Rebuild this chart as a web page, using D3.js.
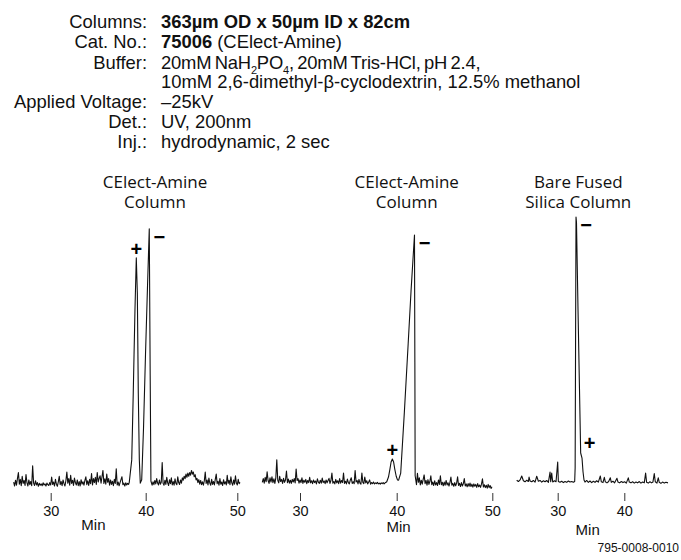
<!DOCTYPE html>
<html>
<head>
<meta charset="utf-8">
<script src="https://cdnjs.cloudflare.com/ajax/libs/d3/7.8.5/d3.min.js"></script>
<style>
body { margin: 0; background: #fff; }
svg { display: block; }
.hdr { font-family: "Liberation Sans", Arial, sans-serif; font-size: 18.4px; fill: #111; }
.tight { letter-spacing: -0.2px; word-spacing: -1.5px; }
.title { font-family: "Open Sans", sans-serif; font-size: 17px; fill: #111; }
.axis text { font-family: "Liberation Sans", Arial, sans-serif; font-size: 14.5px; fill: #111; }
.axis line { stroke: #333; }
.trace { fill: none; stroke: #111; stroke-width: 1.1; stroke-linejoin: round; }
.mark { font-family: "Liberation Sans", Arial, sans-serif; font-weight: bold; font-size: 20px; fill: #000; }
.unit { font-family: "Liberation Sans", Arial, sans-serif; font-size: 15px; fill: #111; }
.ref { font-family: "Liberation Sans", Arial, sans-serif; font-size: 12px; fill: #111; }
</style>
</head>
<body>
<div id="chart"></div>
<script>
// header text (** = bold, _x = subscript)
var headerLabels = ["Columns:", "Cat. No.:", "Buffer:", "", "Applied Voltage:", "Det.:", "Inj.:"];
var headerValues = [
  "**363µm OD x 50µm ID x 82cm**",
  "**75006** (CElect-Amine)",
  "20mM NaH_2PO_4, 20mM Tris-HCl, pH 2.4,",
  "10mM 2,6-dimethyl-β-cyclodextrin, 12.5% methanol",
  "–25kV",
  "UV, 200nm",
  "hydrodynamic, 2 sec"
];

var panelTitles = [["CElect-Amine", "Column"], ["CElect-Amine", "Column"], ["Bare Fused", "Silica Column"]];
var panelTicks = [[30, 40, 50], [30, 40, 50], [30, 40]];
var unitLabel = "Min";
var figureCode = "795-0008-0010";

// detector baseline: start minute, sampling interval (min), absorbance readings
var base1a = {t0: 26.1, dt: 0.1, v: [
  -0.4,-1.9,0.3,-1.6,1.0,3.2,-1.2,0.6,-1.8,1.8,
  -0.9,0.2,-1.7,2.4,-0.6,-1.9,0.4,-1.4,-0.2,-1.8,
  5.8,-0.8,-1.7,0.1,-1.5,-0.6,-2.0,-0.9,-1.6,-1.1,
  -1.8,-0.7,-1.5,-1.1,-1.9,-0.8,-1.4,-1.7,-0.6,-1.5,
  1.5,-1.3,-0.4,-1.9,0.6,-1.2,-2.0,-0.3,1.8,-1.4,
  -0.2,-1.8,0.4,-1.0,-1.9,0.2,3.4,-0.8,0.9,-1.6,
  2.2,-0.9,0.3,-1.7,1.1,-0.6,-1.5,0.4,-1.8,-0.2,
  -1.9,0.5,-1.2,-0.3,-1.6,0.2,1.6,-1.4,0.1,-1.7,
  0.6,-1.0,2.8,-1.5,0.9,-0.6,1.4,-1.3,3.2,-0.4,
  1.0,2.0,-0.8,1.6,4.0,-0.9,0.8,-1.2,2.6,-0.5,
  0.9,-1.6,0.4,-1.3,-0.1,-1.8,0.6,-0.9,4.6,-1.5,
  -0.4,-1.8,-0.6,0.5,1.6,-1.4,-0.8,-1.9,-0.7,-1.5,
  -0.9,-1.3]};
var peaks1 = [
  [38.27,-0.5],[38.53,8],[38.69,33.3],[38.87,64.8],[39.01,84.5],[39.12,71.2],[39.22,33.3],[39.33,8],[39.43,-0.8],
  [39.58,0.5],[39.77,20],[39.98,48],[40.2,74],[40.39,95.5],[40.49,40],[40.57,0]];
var base1b = {t0: 40.7, dt: 0.1, v: [
  -1.6,-0.3,-1.4,0.2,-1.1,0.9,-0.8,-1.5,0.4,-1.2,
  -0.5,7.0,-0.9,-1.6,0.3,-1.3,1.4,-0.7,-1.7,0.5,
  -1.0,1.2,-1.5,-0.2,-1.6,0.8,-0.9,-1.4,1.6,-0.6,
  -1.3,0.4,-0.8,1.2,0.3,1.8,0.9,2.6,1.4,3.0,
  1.8,3.2,2.2,4.0,2.6,3.4,1.6,2.4,0.4,1.0,
  -0.6,0.5,-1.2,0.2,-1.4,-0.3,-1.6,0.1,3.4,-0.9,
  0.4,-1.5,1.1,-0.8,-1.6,0.6,-1.3,-0.2,-1.5,0.7,
  2.6,-1.0,-0.1,-1.6,0.9,-1.2,-0.4,-1.7,0.5,-1.1,
  -0.3,-1.5,2.2,-0.9,0.3,-1.4,1.6,-0.7,-1.6,0.4,
  -1.2,2.0,-0.8,-1.5,0.6,-1.0,-0.5]};

var base2a = {t0: 26.1, dt: 0.1, v: [
  -0.5,0.9,-0.8,1.4,-0.3,3.5,0.2,-0.9,1.2,-0.4,
  1.6,-0.6,0.8,-0.9,1.2,8.0,0.3,-0.7,1.8,-0.2,
  0.6,-0.9,1.0,-0.5,0.4,3.8,-0.6,0.7,-0.8,0.3,
  -0.9,0.6,-0.4,0.9,-0.7,4.5,0.2,0.9,-0.8,0.4,
  -0.6,1.2,-0.9,0.3,-0.5,0.6,-1.0,0.2,-0.6,1.4,
  -0.7,0.1,-1.0,0.4,-0.6,0.0,-1.1,0.8,-0.4,-0.9,
  0.3,-0.8,1.1,-0.6,0.0,-1.0,0.4,-0.7,0.2,1.0,
  -0.9,0.2,3.0,-0.8,-0.2,-1.1,0.6,-0.7,0.1,-1.0,
  0.9,-0.8,0.2,-0.6,3.0,-0.9,-0.1,-1.1,0.7,-0.6,
  -1.1,0.3,1.2,-0.9,-0.3,-1.0,4.0,-0.4,0.2,-1.1,
  0.6,-0.8,-1.2,3.0,-0.5,-1.0,1.5,-0.7,0.1,-1.1,
  -0.4,0.4,-1.2,-0.6,-1.0,-0.4,-1.1,-0.7,-1.0,-0.5,
  -1.1,-0.8,-1.2,-0.7,-1.0,-0.6,-1.1,-0.7,-0.5]};
var peaks2 = [
  [38.97,-0.3],[39.15,1.5],[39.3,4.5],[39.42,7.2],[39.55,8.3],[39.68,7.2],[39.8,4.5],[39.95,1.8],[40.08,0.4],[40.2,0.3],
  [40.42,3.0],[40.8,26],[41.2,52],[41.5,72],[41.86,93.2],[41.9,45],[41.93,2]];
var base2b = {t0: 42.07, dt: 0.1, v: [
  -1.4,2.9,-0.5,1.2,-1.5,0.3,-1.2,0.6,2.3,-1.0,
  0.2,-1.6,0.5,-1.3,-0.2,2.0,-1.4,-0.4,-1.7,0.1,
  -1.5,-0.6,-1.7,0.4,-1.3,2.0,-1.4,-0.5,-1.8,-0.4,
  -1.6,0.2,-1.5,-0.7,-1.9,-0.5,1.5,-1.6,-0.9,-2.0,
  -0.6,-1.8,-0.8,1.6,-1.7,-0.9,-2.1,-0.6,-1.9,-1.0,
  0.9,-1.9,-1.1,-2.2,-1.0,-2.0,-0.8,-2.1,-1.2,-2.3,
  -1.1,-2.0,-1.3,-2.4,-1.0,-2.2,-1.5,-2.4,-1.2,0.8,
  -2.3,-1.4,-2.5,-1.6,-2.7,-1.3,-2.5,-1.7,-2.8,-2.2]};

var trace3 = [
  [23.84,0.3],[24.1,-0.2],[24.35,0.4],[24.6,1.9],[24.85,0.1],[25.1,-0.3],[25.35,0.3],[25.6,-0.2],[25.7,1.5],[25.85,0.0],
  [26.1,-0.3],[26.35,0.2],[26.6,-0.4],[26.85,1.8],[27.1,-0.1],[27.35,0.2],[27.6,-0.4],[27.85,0.1],[28.1,-0.3],[28.35,0.2],
  [28.6,-0.5],[28.85,3.4],[28.95,-0.3],[29.1,3.0],[29.25,-0.4],[29.5,0.1],[29.75,-0.3],[30.0,7.2],[30.1,-0.2],[30.35,-0.5],
  [30.6,-0.1],[30.85,-0.6],[31.1,-0.2],[31.35,-0.5],[31.6,0.0],[31.85,-0.4],[32.1,-0.2],[32.35,-0.5],[32.55,-0.2],
  [32.62,5],[32.68,50],[32.75,100],[32.82,98],[33.05,65],[33.27,35],[33.45,10.6],[33.65,8.7],[33.8,3.5],[33.95,0.4],
  [34.1,-0.4],[34.35,0.2],[34.6,-0.5],[34.85,0.0],[35.1,-0.6],[35.35,-0.1],[35.6,-0.5],[35.85,0.1],[36.1,-0.4],[36.4,1.9],
  [36.55,-0.3],[36.8,-0.6],[37.0,1.4],[37.15,-0.3],[37.4,-0.7],[37.65,-0.2],[37.9,1.2],[38.05,-0.5],[38.3,-0.1],[38.55,-0.7],
  [38.9,1.0],[39.05,-0.4],[39.3,-0.7],[39.55,-0.2],[39.8,-0.6],[40.05,-0.3],[40.3,-0.8],[40.6,1.2],[40.75,-0.4],[41.0,-0.7],
  [41.25,-0.3],[41.5,-0.8],[41.75,-0.4],[42.0,-0.7],[42.25,-0.2],[42.5,-0.8],[42.75,-0.4],[43.0,-0.7],[43.2,3.0],[43.35,-0.5],
  [43.6,-0.8],[43.85,-0.3],[44.1,-0.7],[44.3,-0.4],[44.5,2.8],[44.65,-0.3],[44.9,-0.8],[45.1,1.2],[45.25,-0.5],[45.5,-0.9],
  [45.75,-0.4],[46.0,-0.8],[46.25,-0.5],[46.56,-0.7]
];

// peak charge labels: panel index, peak time, peak height
var peakLabels = [
  {panel: 0, t: 39.01, v: 84.5, label: "+", place: "above"},
  {panel: 0, t: 40.39, v: 95.5, label: "−", place: "right"},
  {panel: 1, t: 39.55, v: 8.3, label: "+", place: "above"},
  {panel: 1, t: 41.86, v: 93.2, label: "−", place: "right"},
  {panel: 2, t: 32.75, v: 100, label: "−", place: "right"},
  {panel: 2, t: 33.45, v: 10.6, label: "+", place: "upright"}
];

// sampled baseline -> [t, v] pairs
function samples(s) {
    return s.v.map(function(v, i) { return [s.t0 + i * s.dt, v]; });
}

var traces = [
    samples(base1a).concat(peaks1, samples(base1b)),
    samples(base2a).concat(peaks2, samples(base2b)),
    trace3
];

var width = 681, height = 560;

var svg = d3.select("#chart").append("svg")
    .attr("width", width)
    .attr("height", height);

svg.append("rect").attr("width", width).attr("height", height).attr("fill", "#fff");

// ---- header block
var labelX = 147, valueX = 161;
var rowY = [28, 48.3, 68.5, 88, 107.5, 127.5, 147.5];

headerLabels.forEach(function(l, i) {
    if (!l) return;
    svg.append("text")
        .attr("class", "hdr")
        .attr("x", labelX)
        .attr("y", rowY[i])
        .style("text-anchor", "end")
        .text(l);
});

headerValues.forEach(function(v, i) {
    var t = svg.append("text")
        .attr("class", "hdr")
        .attr("x", valueX)
        .attr("y", rowY[i]);
    // split into bold / subscript / plain pieces
    var parts = v.split(/(\*\*[^*]+\*\*|_\d)/).filter(function(p) { return p.length; });
    var sub = false;
    if (v.indexOf("_") >= 0) t.classed("tight", true);
    parts.forEach(function(p) {
        if (p.indexOf("**") === 0) {
            t.append("tspan").style("font-weight", "bold").text(p.slice(2, -2));
        } else if (p[0] === "_") {
            t.append("tspan").attr("dy", sub ? 0 : 5).style("font-size", "11px").text(p.slice(1));
            sub = true;
        } else {
            t.append("tspan").attr("dy", sub ? -5 : 0).text(p);
            sub = false;
        }
    });
});

// ---- panels
var y = d3.scaleLinear().domain([0, 100]).range([481, 217]);

var panels = [
    {x: d3.scaleLinear().domain([30, 40, 50]).range([50.7, 145.7, 237.3]), titleX: 155, unitT: 34.5, unitY: 530},
    {x: d3.scaleLinear().domain([30, 40, 50]).range([300, 396.7, 492.3]), titleX: 406.7, unitT: 40.2, unitY: 532},
    {x: d3.scaleLinear().domain([30, 40]).range([557.7, 624.3]), titleX: 578.3, unitT: 34.5, unitY: 535}
];

panels.forEach(function(p, i) {
    var g = svg.append("g");

    g.selectAll(".title")
        .data(panelTitles[i])
        .enter().append("text")
        .attr("class", "title")
        .attr("x", p.titleX)
        .attr("y", function(d, j) { return 188 + j * 20; })
        .style("text-anchor", "middle")
        .text(function(d) { return d; });

    var line = d3.line()
        .x(function(d) { return p.x(d[0]); })
        .y(function(d) { return y(d[1]); });

    g.append("path")
        .datum(traces[i])
        .attr("class", "trace")
        .attr("d", line);

    var ax = g.append("g")
        .attr("class", "axis")
        .attr("transform", "translate(0,493)")
        .call(d3.axisBottom(p.x).tickValues(panelTicks[i]).tickSize(8).tickPadding(5).tickFormat(d3.format("d")));
    ax.select(".domain").remove();
    ax.selectAll("text").attr("fill", "#111");

    g.append("text")
        .attr("class", "unit")
        .attr("x", p.x(p.unitT))
        .attr("y", p.unitY)
        .style("text-anchor", "middle")
        .text(unitLabel);
});

// ---- + / − labels next to the peaks
peakLabels.forEach(function(d) {
    var px = panels[d.panel].x(d.t), py = y(d.v);
    var dx = 0, dy = -9;
    if (d.place === "right") { dx = 10; dy = 8; }
    if (d.place === "upright") { dx = 9; dy = -10; }
    svg.append("text")
        .attr("class", "mark")
        .attr("x", px + dx)
        .attr("y", py + dy)
        .attr("dy", "0.35em")
        .style("text-anchor", "middle")
        .text(d.label);
});

svg.append("text")
    .attr("class", "ref")
    .attr("x", 679)
    .attr("y", 552)
    .style("text-anchor", "end")
    .text(figureCode);
</script>
</body>
</html>
